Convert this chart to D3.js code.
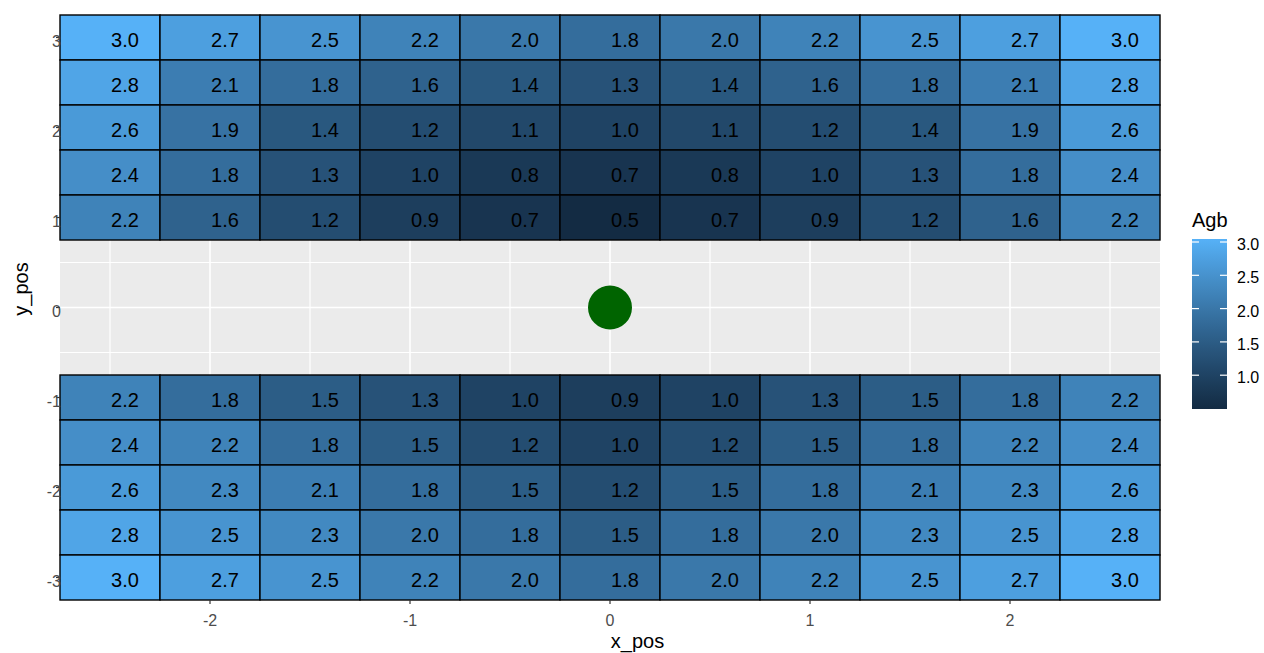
<!DOCTYPE html>
<html>
<head>
<meta charset="utf-8">
<script src="https://cdn.jsdelivr.net/npm/d3@7"></script>
<style>
  html, body { margin: 0; padding: 0; background: #fff; }
  svg { display: block; font-family: "Liberation Sans", Arial, sans-serif; }
</style>
</head>
<body>
<svg id="chart" width="1264" height="653"></svg>
<script>
// ---- data ----
const xPositions = [-2.5, -2, -1.5, -1, -0.5, 0, 0.5, 1, 1.5, 2, 2.5];
const yTopRows = [3, 2.5, 2, 1.5, 1];
const yBottomRows = [-1, -1.5, -2, -2.5, -3];
const agbTop = [
  [3.0, 2.7, 2.5, 2.2, 2.0, 1.8, 2.0, 2.2, 2.5, 2.7, 3.0],
  [2.8, 2.1, 1.8, 1.6, 1.4, 1.3, 1.4, 1.6, 1.8, 2.1, 2.8],
  [2.6, 1.9, 1.4, 1.2, 1.1, 1.0, 1.1, 1.2, 1.4, 1.9, 2.6],
  [2.4, 1.8, 1.3, 1.0, 0.8, 0.7, 0.8, 1.0, 1.3, 1.8, 2.4],
  [2.2, 1.6, 1.2, 0.9, 0.7, 0.5, 0.7, 0.9, 1.2, 1.6, 2.2]
];
const agbBottom = [
  [2.2, 1.8, 1.5, 1.3, 1.0, 0.9, 1.0, 1.3, 1.5, 1.8, 2.2],
  [2.4, 2.2, 1.8, 1.5, 1.2, 1.0, 1.2, 1.5, 1.8, 2.2, 2.4],
  [2.6, 2.3, 2.1, 1.8, 1.5, 1.2, 1.5, 1.8, 2.1, 2.3, 2.6],
  [2.8, 2.5, 2.3, 2.0, 1.8, 1.5, 1.8, 2.0, 2.3, 2.5, 2.8],
  [3.0, 2.7, 2.5, 2.2, 2.0, 1.8, 2.0, 2.2, 2.5, 2.7, 3.0]
];
const centerPoint = [{x: 0, y: 0}];
const xTicks = [-2, -1, 0, 1, 2];
const yTicks = [-3, -2, -1, 0, 1, 2, 3];
const legendTicks = [1.0, 1.5, 2.0, 2.5, 3.0];
const xMinor = [-2.5, -1.5, -0.5, 0.5, 1.5, 2.5];
const yMinor = [-2.5, -1.5, -0.5, 0.5, 1.5, 2.5];

// ---- build cell table ----
const cells = [];
yTopRows.forEach((y, i) => xPositions.forEach((x, j) => cells.push({x, y, v: agbTop[i][j]})));
yBottomRows.forEach((y, i) => xPositions.forEach((x, j) => cells.push({x, y, v: agbBottom[i][j]})));

const svg = d3.select("#chart");
const P = {left: 60, right: 1160, top: 15, bottom: 600};

const x = d3.scaleLinear().domain([-2.75, 2.75]).range([P.left, P.right]);
const y = d3.scaleLinear().domain([-3.25, 3.25]).range([P.bottom, P.top]);
const vExt = d3.extent(cells, d => d.v);
const color = d3.scaleLinear().domain(vExt).range(["#132B43", "#56B1F7"]).interpolate(d3.interpolateLab);

// panel background
svg.append("rect").attr("x", P.left).attr("y", P.top)
  .attr("width", P.right - P.left).attr("height", P.bottom - P.top).attr("fill", "#EBEBEB");

const grid = svg.append("g");
grid.selectAll(".vminor").data(xMinor).join("line")
  .attr("x1", d => x(d)).attr("x2", d => x(d)).attr("y1", P.top).attr("y2", P.bottom)
  .attr("stroke", "#fff").attr("stroke-width", 1.2);
grid.selectAll(".hminor").data(yMinor).join("line")
  .attr("y1", d => y(d)).attr("y2", d => y(d)).attr("x1", P.left).attr("x2", P.right)
  .attr("stroke", "#fff").attr("stroke-width", 1.2);
grid.selectAll(".vmajor").data(xTicks).join("line")
  .attr("x1", d => x(d)).attr("x2", d => x(d)).attr("y1", P.top).attr("y2", P.bottom)
  .attr("stroke", "#fff").attr("stroke-width", 1.6);
grid.selectAll(".hmajor").data(yTicks).join("line")
  .attr("y1", d => y(d)).attr("y2", d => y(d)).attr("x1", P.left).attr("x2", P.right)
  .attr("stroke", "#fff").attr("stroke-width", 1.6);

// tiles
const tw = x(0.5) - x(0), th = y(0) - y(0.5);
svg.append("g").selectAll("rect").data(cells).join("rect")
  .attr("x", d => x(d.x - 0.25)).attr("y", d => y(d.y + 0.25))
  .attr("width", tw).attr("height", th)
  .attr("fill", d => color(d.v))
  .attr("stroke", "#000").attr("stroke-width", 1.4);

// tile labels
svg.append("g").selectAll("text").data(cells).join("text")
  .attr("x", d => x(d.x + 0.075)).attr("y", d => y(d.y) + 9.5)
  .attr("text-anchor", "middle").attr("font-size", 20).attr("fill", "#000")
  .text(d => d3.format(".1f")(d.v));

// center point
svg.append("g").selectAll("circle").data(centerPoint).join("circle")
  .attr("cx", d => x(d.x)).attr("cy", d => y(d.y)).attr("r", 22).attr("fill", "#006400");

// axes
const axX = svg.append("g");
axX.selectAll("line").data(xTicks).join("line")
  .attr("x1", d => x(d)).attr("x2", d => x(d)).attr("y1", P.bottom).attr("y2", P.bottom + 4)
  .attr("stroke", "#333").attr("stroke-width", 1.2);
axX.selectAll("text").data(xTicks).join("text")
  .attr("x", d => x(d)).attr("y", P.bottom + 26)
  .attr("text-anchor", "middle").attr("font-size", 16).attr("fill", "#4D4D4D")
  .text(d => d);

const axY = svg.append("g");
axY.selectAll("line").data(yTicks).join("line")
  .attr("y1", d => y(d)).attr("y2", d => y(d)).attr("x1", P.left - 4).attr("x2", P.left)
  .attr("stroke", "#333").attr("stroke-width", 1.2);
axY.selectAll("text").data(yTicks).join("text")
  .attr("x", P.left + 1).attr("y", d => y(d) + 9.5)
  .attr("text-anchor", "end").attr("font-size", 16).attr("fill", "#4D4D4D")
  .text(d => d);

svg.append("text").attr("x", 637.5).attr("y", 648).attr("text-anchor", "middle")
  .attr("font-size", 20).attr("fill", "#000").text("x_pos");
svg.append("text").attr("transform", "translate(28,289) rotate(-90)").attr("text-anchor", "middle")
  .attr("font-size", 20).attr("fill", "#000").text("y_pos");

// legend
const L = {x: 1192, w: 35, top: 239, bottom: 409};
const ly = d3.scaleLinear().domain(vExt).range([408.5, 242]);
const defs = svg.append("defs");
const grad = defs.append("linearGradient").attr("id", "lg").attr("x1", 0).attr("x2", 0).attr("y1", 1).attr("y2", 0);
d3.range(0, 1.0001, 0.05).forEach(t => {
  const v = vExt[0] + t * (vExt[1] - vExt[0]);
  grad.append("stop").attr("offset", t).attr("stop-color", color(v));
});
svg.append("rect").attr("x", L.x).attr("y", L.top).attr("width", L.w).attr("height", L.bottom - L.top)
  .attr("fill", "url(#lg)");
const lt = svg.append("g");
lt.selectAll(".l").data(legendTicks).join("line")
  .attr("x1", L.x).attr("x2", L.x + 7).attr("y1", d => ly(d)).attr("y2", d => ly(d))
  .attr("stroke", "#fff").attr("stroke-width", 1.2);
lt.selectAll(".r").data(legendTicks).join("line").attr("class", "r")
  .attr("x1", L.x + L.w - 7).attr("x2", L.x + L.w).attr("y1", d => ly(d)).attr("y2", d => ly(d))
  .attr("stroke", "#fff").attr("stroke-width", 1.2);
lt.selectAll("text").data(legendTicks).join("text")
  .attr("x", 1237).attr("y", d => ly(d) + 8)
  .attr("font-size", 16).attr("fill", "#000")
  .text(d => d3.format(".1f")(d));
svg.append("text").attr("x", 1192).attr("y", 227).attr("font-size", 20).attr("fill", "#000").text("Agb");
</script>
</body>
</html>
